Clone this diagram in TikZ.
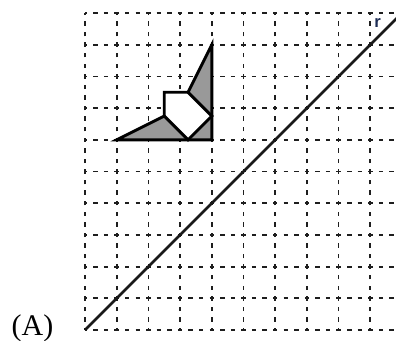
\documentclass[tikz,border=0pt]{standalone}
\usepackage{fontspec}
\setmainfont{Liberation Serif}
\setsansfont{Liberation Sans}
\usepackage{xcolor}
\usetikzlibrary{calc}
\definecolor{shadegray}{RGB}{153, 153, 153}
\definecolor{gridink}{RGB}{30, 30, 30}
\definecolor{labelnavy}{RGB}{30, 45, 85}
\tikzstyle{gridline} = [draw=gridink, line width=1.25pt, dash pattern=on 3.2pt off 4.39pt, dash phase=1.6pt]
\tikzstyle{shaded} = [fill=shadegray]
\tikzstyle{blank} = [fill=white]
\tikzstyle{outline} = [draw=black, line width=2.1pt, line join=miter]
\tikzstyle{mirrorline} = [draw=black!90, line width=1.8pt]

\begin{document}
\begin{tikzpicture}[x=0.8cm, y=0.8cm]
    \useasboundingbox (-2.68, -0.315) rectangle (9.81, 10.41);

    % Grid
    \foreach \row in {0,...,10}
        \draw[gridline] (0, \row) -- (9.9, \row);
    \foreach \col in {0,...,9}
        \draw[gridline] (\col, 0) -- (\col, 10);

    % Figure corners
    \coordinate (tipL) at (1, 6);
    \coordinate (corner) at (4, 6);
    \coordinate (tipT) at (4, 9);
    % Pentagon
    \coordinate (pA) at (2.5, 6.75);
    \coordinate (pB) at (2.5, 7.5);
    \coordinate (pC) at (3.25, 7.5);
    \coordinate (pD) at (4, 6.75);
    \coordinate (pE) at (3.25, 6);

    \fill[shaded] (tipL) -- (pA) -- (pE) -- cycle;
    \fill[shaded] (pE) -- (corner) -- (pD) -- cycle;
    \fill[shaded] (pC) -- (tipT) -- (pD) -- cycle;
    \fill[blank] (pA) -- (pB) -- (pC) -- (pD) -- (pE) -- cycle;

    \draw[outline] (tipL) -- (corner) -- (tipT) -- (pC) -- (pB) -- (pA) -- cycle;
    \draw[outline] (pA) -- (pE) -- (pD) -- (pC);

    % Line r
    \coordinate (lineStart) at (0, 0);
    \coordinate (lineEnd) at (9.9, 9.9);
    \draw[mirrorline] (lineStart) -- (lineEnd);
    \node[font=\sffamily\bfseries\fontsize{12}{14}\selectfont, text=labelnavy, anchor=base west, inner sep=0pt] (labelR) at (9.12, 9.53) {r};

    % Option label
    \node[font=\fontsize{21.5}{25}\selectfont, anchor=base, inner sep=0pt] (labelA) at (-1.656, -0.16) {(A)};
\end{tikzpicture}
\end{document}
